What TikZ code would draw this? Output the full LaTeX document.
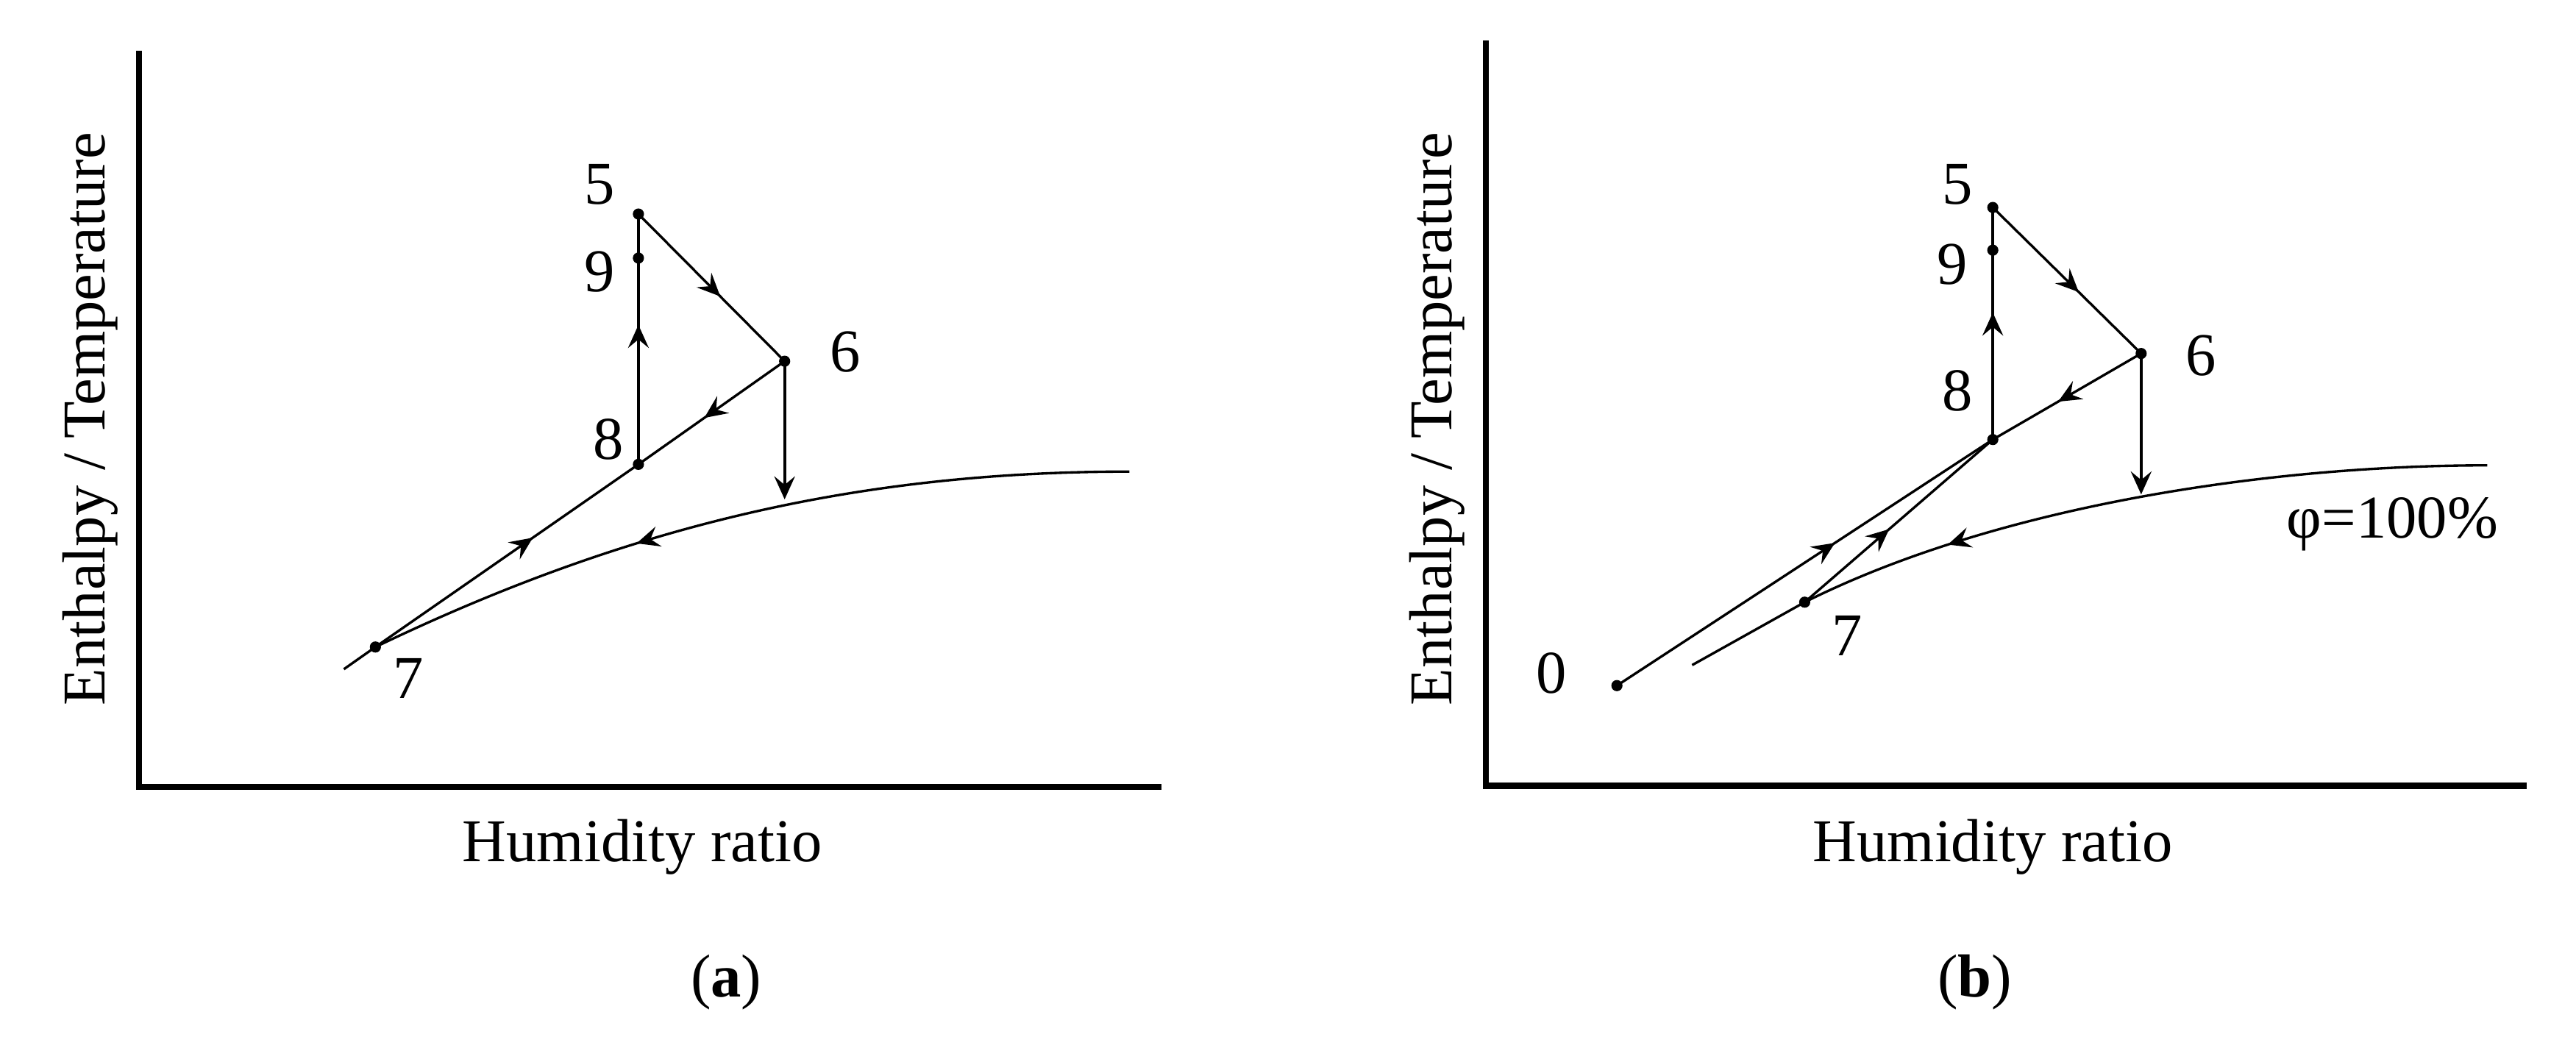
\documentclass[tikz,border=0pt]{standalone}
\usepackage{fontspec}
\setmainfont{Liberation Serif}
\usetikzlibrary{arrows.meta,decorations.markings}
\tikzset{
  axisline/.style={line width=1.9pt},
  thinline/.style={line width=0.75pt},
  vertline/.style={line width=0.9pt},
  lbl/.style={inner sep=0pt,font=\fontsize{18.5}{20}\selectfont},
  midarrow/.style={postaction={decorate},decoration={markings,mark=at position #1 with {\arrow{>}}}},
}
\begin{document}
\begin{tikzpicture}[x=0.5pt,y=-0.5pt,>={Stealth[length=7pt,width=6.3pt,inset=2.6pt]}]
\useasboundingbox (0,0) rectangle (1568,638);
% ---------------- panel (a)
\coordinate (aYT) at (84.6,31);
\coordinate (aO) at (84.6,479);
\coordinate (aXR) at (707,479);
\draw[axisline] (aYT) -- (aO) -- (aXR);
\coordinate (a5) at (388.6,130.3);
\coordinate (a9) at (388.6,157.1);
\coordinate (a6) at (477.6,219.9);
\coordinate (a8) at (388.6,282.7);
\coordinate (a7) at (228.5,393.9);
\coordinate (aS) at (209.3,407.4);
\coordinate (aE) at (687.5,287.1);
\coordinate (aD) at (477.6,304);
\draw[thinline,midarrow=0.56] (a5) -- (a6);
\draw[thinline,midarrow=0.55] (a6) -- (a8);
\draw[vertline,midarrow=0.557] (a8) -- (a5);
\draw[thinline] (aS) -- (a7);
\draw[thinline,midarrow=0.6] (a7) -- (a8);
\draw[vertline,->] (a6) -- (aD);
\draw[thinline,midarrow=0.64] (aE) .. controls (520,287.1) and (380,321.2) .. (a7);
\foreach \p in {a5,a9,a6,a8,a7} \fill (\p) circle (1.7pt);
\node[lbl] (la5) at (365.2,112.1) {5};
\node[lbl] (la9) at (365.2,165.5) {9};
\node[lbl] (la6) at (514.4,214.2) {6};
\node[lbl] (la8) at (370.4,267.6) {8};
\node[lbl] (la7) at (248.5,413.0) {7};
\node[lbl,rotate=90,anchor=base] (aylab) at (63.6,255) {Enthalpy / Temperature};
\node[lbl,anchor=base] (axlab) at (391,524.6) {Humidity ratio};
\node[lbl,anchor=base] (acap) at (442,607) {(\textbf{a})};
% ---------------- panel (b)
\coordinate (bYT) at (904.5,24.8);
\coordinate (bO) at (904.5,478.4);
\coordinate (bXR) at (1538,478.4);
\draw[axisline] (bYT) -- (bO) -- (bXR);
\coordinate (b5) at (1213,126.3);
\coordinate (b9) at (1213,152.3);
\coordinate (b6) at (1303.3,215.2);
\coordinate (b8) at (1213,267.6);
\coordinate (b7) at (1098.5,366.6);
\coordinate (b0) at (984.2,417.4);
\coordinate (bS) at (1030,404.9);
\coordinate (bE) at (1514,283.3);
\coordinate (bD) at (1303.3,301);
\draw[thinline,midarrow=0.58] (b5) -- (b6);
\draw[thinline,midarrow=0.56] (b6) -- (b8);
\draw[vertline,midarrow=0.547] (b8) -- (b5);
\draw[thinline,midarrow=0.58] (b0) -- (b8);
\draw[thinline,midarrow=0.45] (b7) -- (b8);
\draw[thinline] (bS) -- (b7);
\draw[vertline,->] (b6) -- (bD);
\draw[thinline,midarrow=0.78] (bE) .. controls (1380,283.3) and (1215,308.3) .. (b7);
\foreach \p in {b5,b9,b6,b8,b7,b0} \fill (\p) circle (1.7pt);
\node[lbl] (lb5) at (1191.5,112.1) {5};
\node[lbl] (lb9) at (1188.5,160.8) {9};
\node[lbl] (lb6) at (1339.7,216.4) {6};
\node[lbl] (lb8) at (1191.5,237.8) {8};
\node[lbl] (lb7) at (1124.2,387.0) {7};
\node[lbl] (lb0) at (944.3,409.9) {0};
\node[lbl,anchor=base west] (lphi) at (1391.6,327.3) {φ=100\%};
\node[lbl,rotate=90,anchor=base] (bylab) at (883.5,255) {Enthalpy / Temperature};
\node[lbl,anchor=base] (bxlab) at (1213,524.6) {Humidity ratio};
\node[lbl,anchor=base] (bcap) at (1202,607) {(\textbf{b})};
\end{tikzpicture}
\end{document}
